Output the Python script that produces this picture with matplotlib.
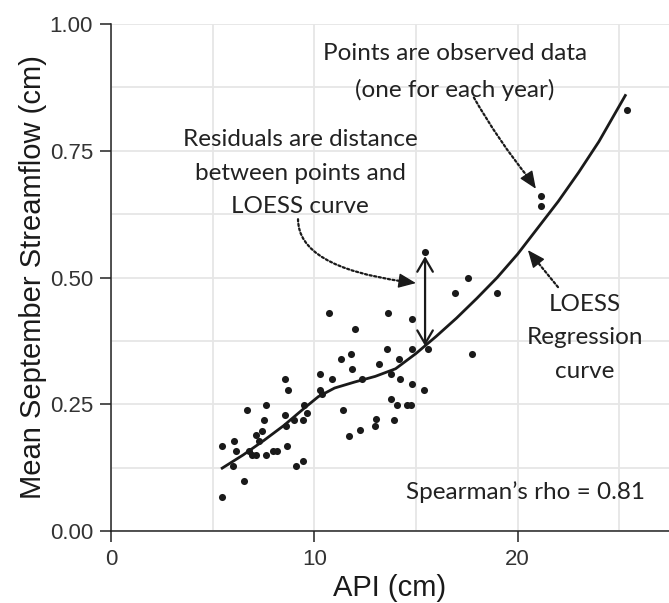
import matplotlib
matplotlib.use("Agg")
from matplotlib import pyplot as plt
from matplotlib.ticker import FixedLocator, FormatStrFormatter

api_cm = [5.44, 5.46, 5.99, 6.05, 6.13, 6.53, 6.67, 6.80, 6.92, 7.12,
          7.12, 7.28, 7.44, 7.53, 7.61, 7.61, 7.95, 8.15, 8.56, 8.56,
          8.60, 8.64, 8.72, 9.00, 9.08, 9.46, 9.46, 9.49, 9.63, 10.28,
          10.28, 10.36, 10.71, 10.86, 11.31, 11.43, 11.72, 11.79, 11.87, 12.02,
          12.25, 12.33, 12.99, 13.02, 13.20, 13.58, 13.62, 13.77, 13.77, 13.94,
          14.05, 14.17, 14.22, 14.57, 14.74, 14.82, 14.82, 14.82, 15.40, 15.45,
          15.61, 16.92, 17.55, 17.74, 18.97, 21.14, 21.14, 25.37]
streamflow_cm = [0.168, 0.068, 0.129, 0.178, 0.158, 0.099, 0.239, 0.158, 0.149, 0.149,
                 0.189, 0.178, 0.198, 0.219, 0.249, 0.149, 0.158, 0.158, 0.299, 0.229,
                 0.208, 0.168, 0.278, 0.219, 0.129, 0.139, 0.219, 0.249, 0.232, 0.309,
                 0.278, 0.270, 0.430, 0.299, 0.339, 0.239, 0.188, 0.349, 0.320, 0.398,
                 0.199, 0.299, 0.208, 0.220, 0.329, 0.359, 0.430, 0.309, 0.260, 0.218,
                 0.249, 0.339, 0.299, 0.249, 0.249, 0.419, 0.359, 0.289, 0.279, 0.550,
                 0.359, 0.470, 0.500, 0.349, 0.470, 0.661, 0.641, 0.830]

# LOESS fit as drawn
loess_api = [5.47, 6.5, 7.5, 8.5, 9.5, 10.2, 11.0, 12.0, 13.0, 14.0, 15.0,
             16.0, 17.0, 18.0, 19.0, 20.0, 21.0, 22.0, 23.0, 24.0, 25.3]
loess_flow = [0.124, 0.150, 0.178, 0.208, 0.242, 0.265, 0.282, 0.294, 0.305, 0.320, 0.350,
              0.384, 0.420, 0.459, 0.500, 0.546, 0.598, 0.650, 0.707, 0.768, 0.859]

x_ticks = [0, 10, 20]
x_minor = [5, 15, 25]
y_ticks = [0.00, 0.25, 0.50, 0.75, 1.00]
y_minor = [0.125, 0.375, 0.625, 0.875]
rho_label = "Spearman\u2019s rho = 0.81"

ink = "#1a1a1a"
note_font = ["Lato", "DejaVu Sans"]
axis_font = ["Liberation Sans", "DejaVu Sans"]

fig = plt.figure(figsize=(6.69, 6.03), dpi=100)
ax = fig.add_axes([111 / 669, 72 / 603, 558 / 669, 507 / 603])
ax.set_xlim(0, 27.45)
ax.set_ylim(0, 1.0)

ax.xaxis.set_major_locator(FixedLocator(x_ticks))
ax.xaxis.set_minor_locator(FixedLocator(x_minor))
ax.yaxis.set_major_locator(FixedLocator(y_ticks))
ax.yaxis.set_minor_locator(FixedLocator(y_minor))
ax.yaxis.set_major_formatter(FormatStrFormatter("%.2f"))
ax.grid(True, which="both", color="#e6e6e6", lw=1.3, zorder=0)
ax.set_axisbelow(True)

for side in ("top", "right"):
    ax.spines[side].set_visible(False)
for side in ("left", "bottom"):
    ax.spines[side].set_linewidth(1.1)
    ax.spines[side].set_color("#222222")
ax.tick_params(which="major", length=8, width=1.1, color="#222222",
               labelsize=16, labelcolor="#333333", pad=5)
ax.tick_params(which="minor", length=0)
for lab in ax.get_xticklabels() + ax.get_yticklabels():
    lab.set_family(axis_font)

ax.set_xlabel("API (cm)", fontsize=21, family=axis_font, color=ink, labelpad=3)
ax.set_ylabel("Mean September Streamflow (cm)", fontsize=21, family=axis_font,
              color=ink, labelpad=2)

ax.scatter(api_cm, streamflow_cm, s=26, color=ink, linewidths=0, zorder=3)
ax.plot(loess_api, loess_flow, color=ink, lw=2, zorder=3)

# annotations
txt = dict(family=note_font, fontsize=17.5, color="#222222", ha="center",
           va="center", zorder=4)
ax.text(16.92, 0.905, "Points are observed data\n(one for each year)",
        linespacing=1.85, **txt)
ax.text(9.30, 0.706, "Residuals are distance\nbetween points and\nLOESS curve",
        linespacing=1.72, **txt)
ax.text(23.31, 0.381, "LOESS\nRegression\ncurve", linespacing=1.75, **txt)
ax.text(14.5, 0.077, rho_label, family=note_font, fontsize=17.5, color="#222222",
        ha="left", va="center")

# dotted leaders, then a solid head on the last bit of each
dots = dict(arrowstyle="-", color=ink, lw=1.6, linestyle=(0, (1, 1.1)),
            shrinkA=0, shrinkB=0)
head = dict(arrowstyle="-|>,head_length=0.9,head_width=0.38", color=ink,
            lw=1, shrinkA=0, shrinkB=0, mutation_scale=12)

ax.annotate("", xy=(20.57, 0.695), xytext=(17.85, 0.855),
            arrowprops=dict(dots, connectionstyle="arc3,rad=0.04"))
ax.annotate("", xy=(20.9, 0.675), xytext=(20.50, 0.699), arrowprops=head)

ax.annotate("", xy=(14.4, 0.492), xytext=(9.20, 0.615),
            arrowprops=dict(dots, connectionstyle="angle3,angleA=90,angleB=-8"))
ax.annotate("", xy=(15.0, 0.489), xytext=(14.3, 0.493), arrowprops=head)

ax.annotate("", xy=(20.95, 0.532), xytext=(21.99, 0.481), arrowprops=dots)
ax.annotate("", xy=(20.51, 0.554), xytext=(20.97, 0.531), arrowprops=head)

# residual marker between point and curve
ax.annotate("", xy=(15.45, 0.365), xytext=(15.45, 0.542),
            arrowprops=dict(arrowstyle="<->,head_length=0.6,head_width=0.35",
                            color=ink, lw=1.6, shrinkA=0, shrinkB=0,
                            mutation_scale=16))

fig.savefig("out.png", dpi=100)
